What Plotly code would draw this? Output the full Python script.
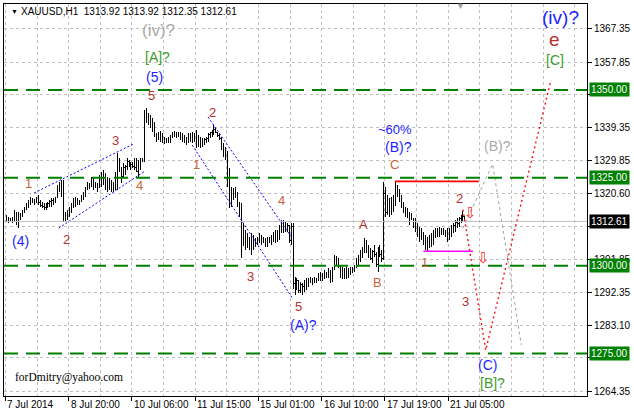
import plotly.graph_objects as go

# ---------------- data ----------------
high = [
1314.4, 1313.8, 1313.5, 1313.8, 1315.9, 1315.3, 1315.3, 1315.0, 1315.9, 1316.7,
1317.8, 1318.7, 1319.5, 1319.3, 1318.7, 1319.5, 1320.1, 1318.7, 1318.1, 1317.8,
1317.8, 1318.1, 1318.7, 1319.3, 1319.3, 1319.5, 1323.0, 1323.8, 1324.4, 1324.4,
1315.3, 1315.9, 1316.7, 1317.8, 1319.3, 1319.5, 1319.3, 1318.7, 1320.1, 1321.0,
1322.4, 1323.8, 1323.5, 1325.2, 1324.9, 1323.8, 1323.5, 1325.8, 1326.6, 1327.2,
1326.4, 1325.2, 1324.9, 1324.4, 1323.8, 1326.6, 1332.1, 1330.7, 1328.1, 1329.2,
1328.6, 1330.7, 1330.1, 1329.5, 1329.5, 1330.7, 1330.7, 1330.1, 1330.7, 1330.7,
1344.3, 1345.0, 1343.4, 1342.9, 1342.0, 1340.9, 1337.7, 1338.0, 1338.3, 1337.7,
1336.6, 1336.3, 1336.6, 1337.2, 1338.0, 1338.3, 1338.0, 1338.0, 1338.0, 1337.7,
1337.2, 1336.6, 1337.7, 1337.7, 1338.0, 1337.7, 1338.6, 1337.2, 1336.6, 1336.3,
1336.3, 1336.6, 1337.7, 1338.0, 1338.6, 1340.0, 1339.2, 1338.0, 1337.7, 1336.6,
1334.9, 1333.8, 1332.6, 1327.8, 1322.4, 1322.1, 1322.4, 1321.0, 1318.1, 1317.8,
1312.1, 1310.2, 1309.3, 1308.2, 1309.3, 1308.7, 1307.9, 1308.2, 1309.3, 1308.7,
1308.2, 1307.9, 1308.2, 1308.2, 1308.7, 1309.6, 1310.2, 1310.2, 1311.6, 1313.0,
1313.0, 1312.4, 1312.1, 1311.6, 1312.1, 1312.1, 1296.9, 1296.6, 1296.0, 1295.4,
1295.1, 1296.0, 1296.6, 1296.6, 1296.9, 1296.6, 1296.9, 1296.6, 1297.8, 1298.2,
1297.8, 1298.8, 1298.2, 1299.4, 1298.8, 1299.6, 1303.0, 1302.8, 1302.2, 1300.2,
1299.6, 1299.4, 1299.6, 1299.4, 1299.6, 1299.6, 1300.2, 1302.2, 1303.0, 1304.5,
1305.3, 1307.9, 1307.3, 1305.9, 1305.0, 1304.5, 1305.9, 1303.9, 1305.3, 1305.9,
1304.5, 1323.8, 1322.4, 1320.1, 1319.2, 1319.5, 1320.1, 1324.0, 1323.0, 1321.5,
1320.1, 1318.1, 1316.7, 1316.4, 1315.3, 1315.0, 1313.6, 1313.6, 1312.1, 1311.0,
1310.7, 1309.6, 1308.7, 1308.2, 1308.7, 1309.3, 1310.2, 1310.7, 1310.7, 1311.0,
1310.7, 1310.7, 1310.2, 1310.7, 1310.7, 1311.6, 1312.1, 1313.0, 1313.6, 1313.9,
1314.4, 1315.6, 1313.92]

low = [
1312.4, 1312.1, 1312.6, 1312.1, 1312.4, 1311.6, 1310.7, 1313.0, 1313.9, 1315.0,
1315.9, 1316.4, 1317.3, 1317.8, 1317.3, 1317.8, 1317.3, 1316.7, 1316.4, 1315.9,
1315.9, 1316.4, 1316.7, 1316.7, 1317.3, 1317.8, 1319.3, 1321.0, 1319.5, 1312.4,
1312.4, 1313.0, 1313.9, 1315.0, 1316.4, 1316.7, 1317.3, 1317.3, 1318.1, 1318.7,
1319.5, 1321.5, 1321.8, 1322.4, 1321.5, 1322.1, 1321.0, 1322.1, 1322.4, 1323.0,
1321.5, 1321.0, 1321.5, 1321.0, 1321.0, 1321.5, 1321.5, 1326.6, 1323.5, 1325.0,
1325.8, 1327.2, 1328.1, 1327.2, 1327.8, 1327.2, 1326.6, 1325.0, 1327.2, 1329.5,
1329.5, 1340.6, 1340.0, 1339.2, 1338.0, 1336.6, 1335.2, 1335.8, 1335.2, 1334.9,
1334.6, 1334.9, 1334.9, 1334.9, 1336.3, 1336.6, 1336.3, 1336.6, 1335.8, 1335.2,
1334.9, 1334.3, 1334.9, 1335.2, 1334.9, 1335.2, 1333.5, 1333.8, 1333.5, 1333.8,
1334.3, 1334.9, 1335.2, 1336.3, 1336.6, 1337.2, 1337.7, 1336.6, 1335.8, 1332.9,
1330.9, 1330.1, 1322.4, 1316.4, 1316.7, 1318.7, 1319.3, 1316.7, 1313.9, 1302.1,
1305.5, 1304.5, 1305.0, 1304.5, 1303.0, 1304.5, 1305.3, 1305.9, 1306.5, 1305.9,
1306.5, 1305.3, 1305.3, 1306.5, 1305.9, 1306.7, 1306.5, 1306.7, 1307.3, 1309.3,
1309.3, 1309.6, 1309.6, 1306.5, 1305.9, 1293.5, 1291.6, 1293.1, 1292.3, 1292.3,
1291.7, 1292.6, 1293.1, 1294.0, 1295.1, 1294.6, 1295.1, 1295.1, 1295.7, 1295.7,
1295.7, 1296.3, 1296.6, 1296.6, 1295.1, 1295.4, 1298.8, 1300.2, 1299.4, 1296.6,
1296.3, 1296.3, 1296.3, 1296.6, 1297.4, 1297.9, 1298.2, 1299.4, 1300.2, 1301.1,
1302.2, 1303.6, 1303.6, 1302.2, 1301.6, 1300.8, 1302.5, 1299.6, 1298.2, 1302.5,
1301.1, 1301.6, 1313.9, 1314.4, 1313.9, 1314.4, 1315.3, 1317.0, 1319.5, 1318.1,
1316.4, 1315.0, 1313.9, 1313.6, 1311.6, 1313.0, 1310.7, 1309.6, 1308.2, 1306.7,
1307.3, 1305.9, 1304.5, 1303.9, 1305.0, 1305.3, 1305.9, 1307.9, 1308.2, 1308.2,
1308.7, 1308.7, 1308.2, 1306.7, 1307.3, 1308.2, 1309.3, 1309.6, 1310.7, 1311.0,
1312.1, 1312.4, 1312.35]

close = [
1313.2, 1312.8, 1313.0, 1313.4, 1313.0, 1312.2, 1314.6, 1314.4, 1315.6, 1316.4,
1317.4, 1318.3, 1318.6, 1318.2, 1318.9, 1319.2, 1317.9, 1317.1, 1316.8, 1316.5,
1317.4, 1317.7, 1318.2, 1318.6, 1318.9, 1319.3, 1322.5, 1322.0, 1323.6, 1313.6,
1314.8, 1315.2, 1316.2, 1317.1, 1318.5, 1317.4, 1318.1, 1318.4, 1319.6, 1320.5,
1321.9, 1322.6, 1323.0, 1323.1, 1322.4, 1323.2, 1322.0, 1325.1, 1325.9, 1323.7,
1322.3, 1324.1, 1322.2, 1323.6, 1321.8, 1325.4, 1328.8, 1327.0, 1325.3, 1327.9,
1328.2, 1329.6, 1328.6, 1328.9, 1328.3, 1327.9, 1326.9, 1329.4, 1330.0, 1330.2,
1342.9, 1341.4, 1342.1, 1339.9, 1338.8, 1337.3, 1336.8, 1337.5, 1336.0, 1335.5,
1335.9, 1335.2, 1336.1, 1336.9, 1337.6, 1337.1, 1337.5, 1337.0, 1336.4, 1335.6,
1335.3, 1336.2, 1337.1, 1336.0, 1337.3, 1335.8, 1334.2, 1334.9, 1334.0, 1335.6,
1335.9, 1336.2, 1337.4, 1337.8, 1338.3, 1338.9, 1338.0, 1337.0, 1336.3, 1333.4,
1331.7, 1332.6, 1323.8, 1318.2, 1320.9, 1321.5, 1320.1, 1317.6, 1316.9, 1306.0,
1309.8, 1305.6, 1308.0, 1305.2, 1308.4, 1306.0, 1306.9, 1307.7, 1307.0, 1306.4,
1307.6, 1306.1, 1307.8, 1307.2, 1308.1, 1308.8, 1309.0, 1309.9, 1311.0, 1310.1,
1312.2, 1310.5, 1311.4, 1307.3, 1311.3, 1295.0, 1294.2, 1295.8, 1293.0, 1294.6,
1294.0, 1295.5, 1294.5, 1296.1, 1295.7, 1296.3, 1295.6, 1296.2, 1297.2, 1296.4,
1297.6, 1297.0, 1298.0, 1297.2, 1296.0, 1299.2, 1301.8, 1300.7, 1299.9, 1297.3,
1298.8, 1297.1, 1298.9, 1297.6, 1299.0, 1298.5, 1299.8, 1301.6, 1302.4, 1303.9,
1304.6, 1306.5, 1304.3, 1303.0, 1302.2, 1304.0, 1303.1, 1300.4, 1304.7, 1303.3,
1302.0, 1320.5, 1315.2, 1318.9, 1314.8, 1318.7, 1319.4, 1320.2, 1321.8, 1318.8,
1317.2, 1315.6, 1315.1, 1314.2, 1313.6, 1313.4, 1311.2, 1311.9, 1309.0, 1309.8,
1307.9, 1306.4, 1305.3, 1307.5, 1305.8, 1308.6, 1309.1, 1308.5, 1310.1, 1309.0,
1310.2, 1309.4, 1309.8, 1307.6, 1310.0, 1310.9, 1311.5, 1312.4, 1312.0, 1313.3,
1313.6, 1313.92, 1312.61]

first_open = 1313.8
last_price = 1312.61

price_ticks = [1367.35, 1357.85, 1348.60, 1339.35, 1329.85, 1320.60,
               1311.10, 1301.85, 1292.35, 1283.10, 1273.85, 1264.35]
# tick values whose labels sit fully under a level box
covered_ticks = [1348.60, 1311.10, 1273.85]
time_labels = ["7 Jul 2014", "8 Jul 20:00", "10 Jul 06:00", "11 Jul 15:00",
               "15 Jul 01:00", "16 Jul 10:00", "17 Jul 19:00", "21 Jul 05:00"]
time_label_bars = [0, 32, 64, 96, 128, 160, 192, 224]
levels = [1350.00, 1325.00, 1300.00, 1275.00]

# analysis lines (bar index, price)
channel_up_x, channel_up_y = [14, 64.5], [1320.7, 1334.7]
channel_lo_x, channel_lo_y = [26.5, 70], [1310.7, 1326.9]
down_a_x, down_a_y = [102, 144.5], [1342.3, 1307.9]
down_b_x, down_b_y = [94, 145], [1334.3, 1290.5]
proj_red_x, proj_red_y = [231, 242.5, 275.5], [1316.0, 1276.0, 1352.8]
proj_gray_x, proj_gray_y = [231, 246, 260.5], [1310.7, 1328.9, 1277.5]
c_high_x, c_high_y = [196.5, 239], [1324.0, 1324.0]
w1_low_x, w1_low_y = [211, 236], [1304.1, 1304.1]

BLUE = "#1E1EFF"
RED = "#B8302C"
ORNG = "#C8643C"
GRN = "#3F9B2B"
GRY = "#A9A9A9"

wave_labels = [
    ("(iv)?", 77, 1367.0, GRY, 17),
    ("[A]?", 76.5, 1359.4, GRN, 14),
    ("(5)", 75, 1353.7, BLUE, 14),
    ("5", 73.5, 1348.3, RED, 13),
    ("2", 104.5, 1343.7, RED, 13),
    ("3", 55, 1335.5, RED, 13),
    ("1", 11, 1323.5, ORNG, 13),
    ("(4)", 7, 1307.0, BLUE, 14),
    ("2", 30.5, 1307.6, RED, 13),
    ("4", 67.5, 1322.7, ORNG, 13),
    ("1", 96, 1328.7, ORNG, 13),
    ("4", 139, 1318.7, ORNG, 13),
    ("3", 123.5, 1296.8, RED, 13),
    ("5", 148, 1288.3, RED, 13),
    ("(A)?", 150.5, 1283.1, BLUE, 14),
    ("A", 180.5, 1311.6, RED, 13),
    ("B", 187.5, 1295.1, ORNG, 13),
    ("C", 196.5, 1328.7, ORNG, 13),
    ("(B)?", 198.5, 1333.8, BLUE, 14),
    ("~60%", 196.5, 1338.9, BLUE, 13),
    ("2", 229, 1319.0, RED, 13),
    ("1", 211.5, 1300.8, ORNG, 13),
    ("(B)?", 248.5, 1334.1, GRY, 14),
    ("3", 232.5, 1289.7, RED, 13),
    ("(C)", 243.5, 1271.8, BLUE, 14),
    ("[B]?", 246, 1266.6, GRN, 14),
    ("(iv)?", 280.5, 1370.5, BLUE, 19),
    ("e", 277.5, 1364.5, RED, 19),
    ("[C]", 277.5, 1358.5, GRN, 14),
]
sell_arrows = [(235, 1315.0), (241.5, 1302.2)]

# ---------------- figure ----------------
n = min(len(high), len(low), len(close))
opens = [first_open] + close[:n - 1]
bars = list(range(n))

W, H = 634, 412
ML, MR, MT, MB = 3, 41, 4, 16
PW, PH = W - ML - MR, H - MT - MB


def px_x(px):
    return (px - ML) / PW


def px_y(py):
    return 1 - (py - MT) / PH


fig = go.Figure()
fig.add_trace(go.Ohlc(
    x=bars, open=opens, high=high[:n], low=low[:n], close=close[:n],
    increasing=dict(line=dict(color="black", width=1)),
    decreasing=dict(line=dict(color="black", width=1)),
    tickwidth=0.3, hoverinfo="skip", showlegend=False))


def add_line(xs, ys, color, dash, width=1):
    fig.add_trace(go.Scatter(x=xs, y=ys, mode="lines",
                             line=dict(color=color, dash=dash, width=width),
                             hoverinfo="skip", showlegend=False))


add_line(channel_up_x, channel_up_y, "#0000FF", "2px,2px")
add_line(channel_lo_x, channel_lo_y, "#0000FF", "2px,2px")
add_line(down_a_x, down_a_y, "#0000FF", "2px,2px")
add_line(down_b_x, down_b_y, "#0000FF", "2px,2px")
add_line(proj_gray_x, proj_gray_y, "#A0A0A0", "3px,3px")
add_line(proj_red_x, proj_red_y, "#FF0000", "2px,3px", 1.3)
add_line(c_high_x, c_high_y, "#FF0000", "solid", 1.6)
add_line(w1_low_x, w1_low_y, "#FF00FF", "solid", 1.6)

shapes = []
shapes.append(dict(type="line", xref="paper", x0=0, x1=1, yref="y",
                   y0=last_price, y1=last_price,
                   line=dict(color="#C0C0C0", width=1)))
for lv in levels:
    shapes.append(dict(type="line", xref="paper", x0=0, x1=1, yref="y",
                       y0=lv, y1=lv,
                       line=dict(color="#008000", width=2, dash="14px,8px")))

ann = []
for txt, bx, py, col, sz in wave_labels:
    ann.append(dict(x=bx, y=py, xref="x", yref="y", text=txt, showarrow=False,
                    font=dict(color=col, size=sz,
                              family="Liberation Sans, Arial, sans-serif")))
for bx, py in sell_arrows:
    ann.append(dict(x=bx, y=py, xref="x", yref="y", text="\u21e9",
                    showarrow=False,
                    font=dict(color="#FF2A2A", size=15, family="DejaVu Sans")))
for lbl, b in zip(time_labels, time_label_bars):
    ann.append(dict(x=b - 0.5, y=px_y(404), xref="x", yref="paper", text=lbl,
                    showarrow=False, xanchor="left", yanchor="middle",
                    font=dict(color="black", size=10)))
for lv in levels:
    ann.append(dict(x=1, y=lv, xref="paper", yref="y", text=f"{lv:.2f}",
                    showarrow=False, xanchor="left", yanchor="middle", xshift=2,
                    bgcolor="#008000", borderpad=1,
                    font=dict(color="white", size=10)))
ann.append(dict(x=1, y=last_price, xref="paper", yref="y",
                text=f"{last_price:.2f}", showarrow=False, xanchor="left",
                yanchor="middle", xshift=2, bgcolor="black", borderpad=1,
                font=dict(color="white", size=10)))
# header
ann.append(dict(x=px_x(8), y=px_y(11), xref="paper", yref="paper", text="\u25bc",
                showarrow=False, xanchor="left", yanchor="middle",
                font=dict(color="black", size=7)))
hdr = "XAUUSD,H1  {:.2f} {:.2f} {:.2f} {:.2f}".format(
    opens[n - 1], high[n - 1], low[n - 1], close[n - 1])
ann.append(dict(x=px_x(18), y=px_y(11), xref="paper", yref="paper", text=hdr,
                showarrow=False, xanchor="left", yanchor="middle",
                font=dict(color="black", size=10)))
ann.append(dict(x=px_x(465), y=px_y(6), xref="paper", yref="paper", text="\u25bc",
                showarrow=False, xanchor="center", yanchor="middle",
                font=dict(color="#A0A0A0", size=9)))
ann.append(dict(x=px_x(12), y=px_y(377), xref="paper", yref="paper",
                text="forDmitry@yahoo.com", showarrow=False, xanchor="left",
                yanchor="middle",
                font=dict(color="black", size=11.5,
                          family="Liberation Serif, Times New Roman, serif")))

fig.update_layout(
    width=W, height=H,
    margin=dict(l=ML, r=MR, t=MT, b=MB, pad=0),
    paper_bgcolor="white", plot_bgcolor="white",
    font=dict(family="Liberation Sans, Arial, sans-serif", size=10, color="black"),
    showlegend=False,
    shapes=shapes, annotations=ann,
    xaxis=dict(
        range=[-1.25, 293.75], rangeslider=dict(visible=False),
        tickmode="array", tickvals=[b - 0.5 for b in time_label_bars],
        ticktext=[""] * len(time_label_bars),
        ticks="outside", ticklen=4, tickcolor="black",
        showgrid=True, gridcolor="#C0C0C0", griddash="3px,3px", gridwidth=1,
        minor=dict(tick0=-0.5, dtick=16, showgrid=True, gridcolor="#C0C0C0",
                   griddash="3px,3px", ticks=""),
        showline=True, mirror=True, linecolor="black", linewidth=1,
        zeroline=False, fixedrange=True),
    yaxis=dict(
        side="right", range=[1262.94, 1374.46],
        tickmode="array", tickvals=price_ticks,
        ticktext=["" if v in covered_ticks else f"{v:.2f}" for v in price_ticks],
        ticks="outside", ticklen=4, tickcolor="black",
        tickfont=dict(size=10, color="black"),
        showgrid=True, gridcolor="#C0C0C0", griddash="3px,3px", gridwidth=1,
        showline=True, mirror=True, linecolor="black", linewidth=1,
        zeroline=False, fixedrange=True),
)

fig.write_html(
    "out.html",
    config={"displayModeBar": False, "staticPlot": True},
    post_script="document.body.style.margin='0px';"
                "document.body.style.padding='0px';"
                "document.body.style.overflow='hidden';"
                "document.querySelectorAll('.ohlc path').forEach("
                "function(p){p.style.shapeRendering='crispEdges';});")
